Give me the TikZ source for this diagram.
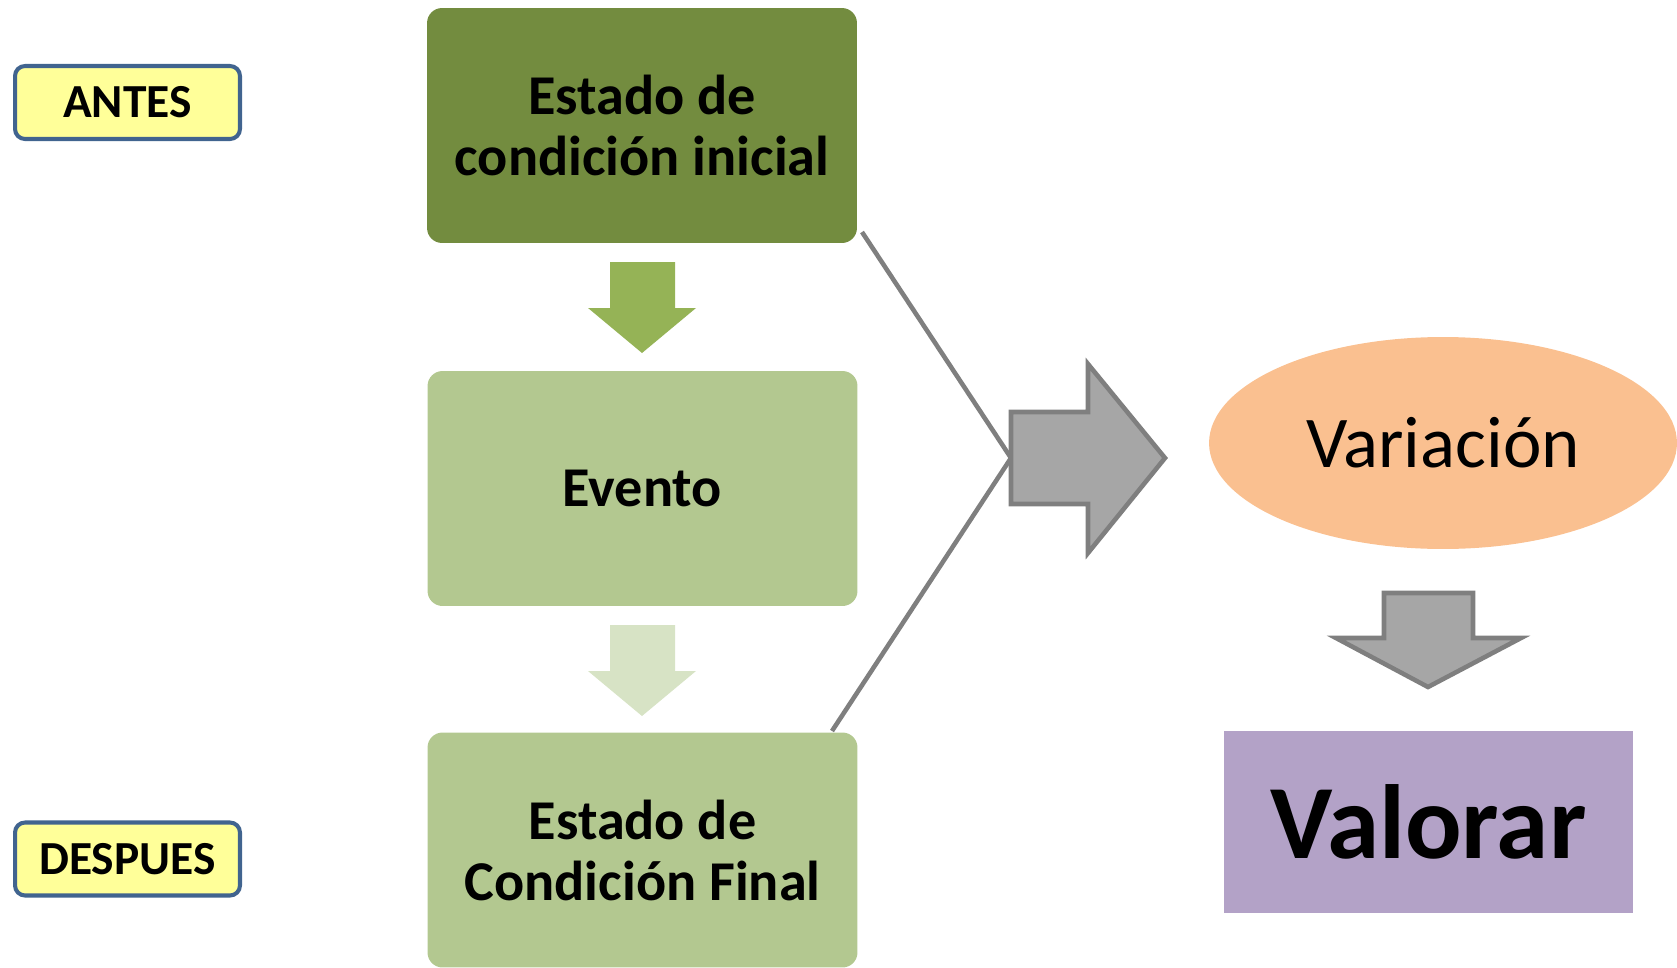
\documentclass[tikz,border=0pt]{standalone}
\usepackage{fontspec}
\setmainfont{Carlito}
\usetikzlibrary{shapes.geometric}
\definecolor{amarillo}{HTML}{FFFF99}
\definecolor{azulborde}{HTML}{41648F}
\definecolor{verdeosc}{HTML}{738C3F}
\definecolor{verdeclaro}{HTML}{B3C890}
\definecolor{flechaverde}{HTML}{95B356}
\definecolor{flechapalida}{HTML}{D7E3C5}
\definecolor{grisrelleno}{HTML}{A6A6A6}
\definecolor{grisborde}{HTML}{7F7F7F}
\definecolor{naranja}{HTML}{FAC090}
\definecolor{lila}{HTML}{B3A2C7}
\tikzset{
  etiqueta/.style={draw=azulborde, line width=2.3pt, fill=amarillo, rounded corners=0.2cm,
    minimum width=4.5cm, minimum height=1.46cm, font=\fontsize{27}{32}\selectfont\bfseries},
  caja/.style={rounded corners=0.3cm, minimum width=8.6cm, minimum height=4.7cm,
    align=center, font=\fontsize{32}{34.7}\selectfont\bfseries},
  gris/.style={draw=grisborde, line width=2.6pt}
}
\begin{document}
\begin{tikzpicture}[x=0.02cm, y=0.02cm]
\tikzstyle{every node}+=[inner sep=0pt]
\useasboundingbox (0,0) rectangle (1677,-967);
\node [etiqueta] (antes) at (127.5,-102.5) {ANTES};
\node [etiqueta] (despues) at (127.5,-859) {DESPUES};
\node [caja, fill=verdeosc] (inicial) at (642,-125.5) {Estado de\\condición inicial};
\node [caja, fill=verdeclaro] (evento) at (642.5,-488.5) {Evento};
\node [caja, fill=verdeclaro] (final) at (642.5,-850) {Estado de\\Condición Final};
\fill [flechaverde] (610,-262) -- (675,-262) -- (675,-308) -- (696,-308) -- (642,-353) -- (588,-308) -- (610,-308) -- cycle;
\fill [flechapalida] (610,-625) -- (675,-625) -- (675,-671) -- (696,-671) -- (642,-716) -- (588,-671) -- (610,-671) -- cycle;
\coordinate (arriba) at (862,-232);
\coordinate (abajo) at (832,-731);
\coordinate (cola) at (1011,-458);
\draw [gris] (arriba) -- (cola) -- (abajo);
\filldraw [gris, fill=grisrelleno] (cola) -- (1011,-412) -- (1088,-412) -- (1088,-364) -- (1165,-458) -- (1088,-553) -- (1088,-504) -- (1011,-504) -- cycle;
\node [ellipse, fill=naranja, minimum width=9.36cm, minimum height=4.24cm,
  font=\fontsize{41.5}{50}\selectfont] (variacion) at (1443,-443) {Variación};
\filldraw [gris, fill=grisrelleno] (1384,-593) -- (1473,-593) -- (1473,-638) -- (1521,-638) -- (1428,-687) -- (1336,-638) -- (1384,-638) -- cycle;
\node [fill=lila, minimum width=8.18cm, minimum height=3.64cm,
  font=\fontsize{60}{72}\selectfont\bfseries] (valorar) at (1428.5,-822) {Valorar};
\end{tikzpicture}
\end{document}
